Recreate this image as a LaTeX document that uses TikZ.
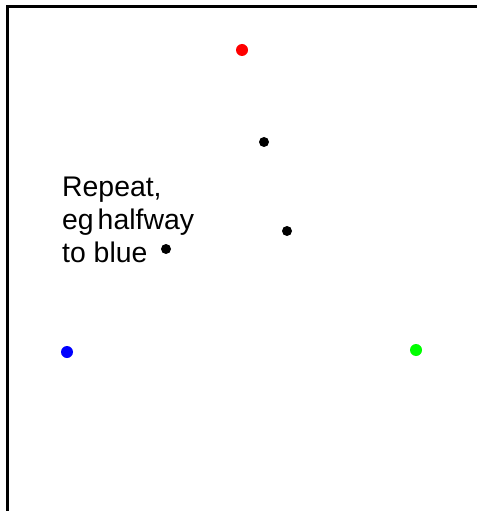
\documentclass[tikz,border=0pt]{standalone}
\usepackage{fontspec}
\setmainfont{Liberation Sans}
\begin{document}
\begin{tikzpicture}[x=1bp,y=-1bp,
  dot/.style={circle,inner sep=0pt,minimum size=#1,fill},
  lbl/.style={anchor=base west,inner sep=0pt,font=\fontsize{28.5}{32}\selectfont}]
\useasboundingbox (0,0) rectangle (477,511);
\coordinate (fb) at (7.5,511);
\coordinate (fc) at (7.5,6.5);
\coordinate (fr) at (477,6.5);
\draw[line width=2.5bp] (fb) -- (fc) -- (fr);
\node[dot=12bp,fill=red] (red) at (242,50) {};
\node[dot=10bp,fill=black] (p1) at (264,142) {};
\node[dot=10bp,fill=black] (p2) at (287,231) {};
\node[dot=10bp,fill=black] (p3) at (166,249) {};
\node[dot=12bp,fill=blue] (blue) at (67,352) {};
\node[dot=12bp,fill=green] (green) at (416,350) {};
\node[lbl] (t1) at (62,197) {Repeat,};
\node[lbl] (t2) at (62,229) {eg\hspace{4bp}halfway};
\node[lbl] (t3) at (62,262) {to blue};
\end{tikzpicture}
\end{document}
